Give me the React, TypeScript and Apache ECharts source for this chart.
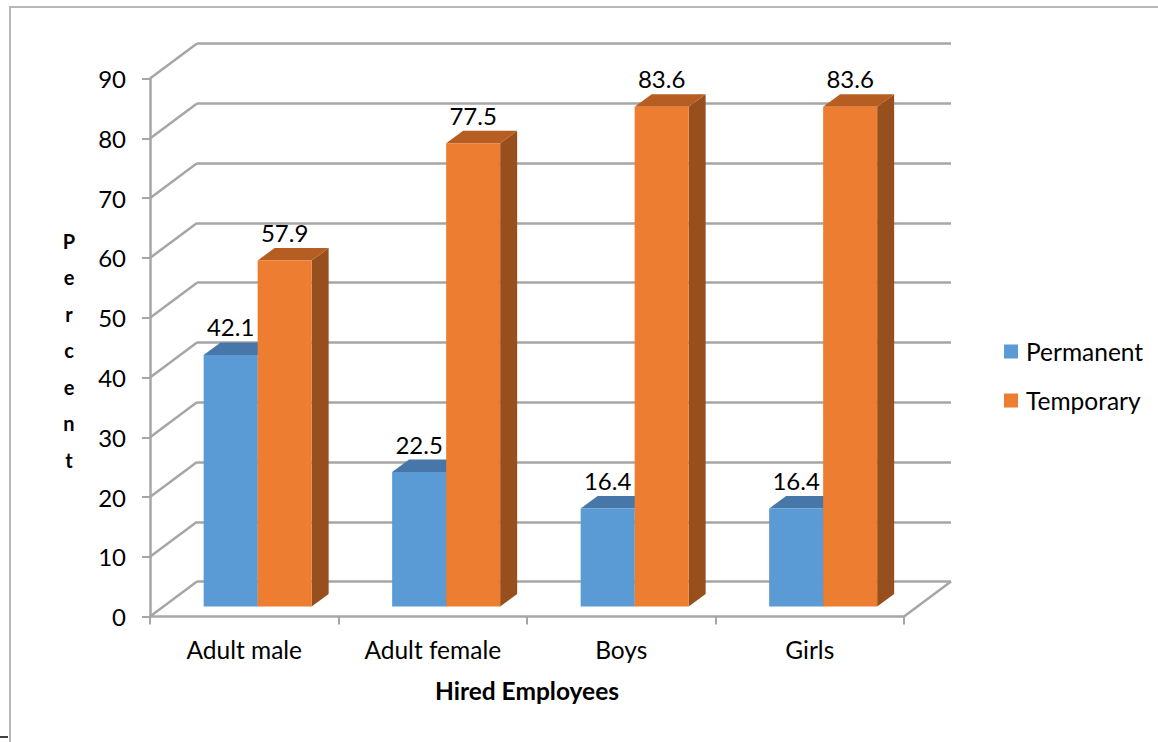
import React, { useEffect, useRef } from 'react';
import * as echarts from 'echarts';

const categories = ['Adult male', 'Adult female', 'Boys', 'Girls'];
const permanent = [42.1, 22.5, 16.4, 16.4];
const temporary = [57.9, 77.5, 83.6, 83.6];
const seriesNames = ['Permanent', 'Temporary'];
const yTicks = [0, 10, 20, 30, 40, 50, 60, 70, 80, 90];
const xTitle = 'Hired Employees';
const yTitle = 'Percent';

const FONT = 'Lato, "Noto Sans", sans-serif';
const GRID_COLOR = '#a6a6a6';
const DEPTH = { dx: 47, dy: -35 };
const FRONT = { dx: 13.4, dy: -10 };
const BAR_D = { dx: 17, dy: -12.5 };
const BAR_FRAC = 0.2865;

const COLORS = [
  { front: '#5b9bd5', top: '#4677a8', side: '#3c6a96' },
  { front: '#ed7d31', top: '#b65e22', side: '#984f1e' },
];

function barRenderer(side: number) {
  const c = COLORS[side];
  return (params: any, api: any) => {
    const cat = api.value(0);
    const val = api.value(1);
    const top = api.coord([cat, val]);
    const base = api.coord([cat, 0]);
    const band = api.size([1, 0])[0];
    const w = band * BAR_FRAC;
    const x0 = top[0] + (side === 0 ? -w : 0) + FRONT.dx;
    const x1 = x0 + w;
    const yt = top[1] + FRONT.dy;
    const yb = base[1] + FRONT.dy;
    return {
      type: 'group',
      children: [
        {
          type: 'polygon',
          shape: { points: [[x1, yt], [x1 + BAR_D.dx, yt + BAR_D.dy], [x1 + BAR_D.dx, yb + BAR_D.dy], [x1, yb]] },
          style: { fill: c.side },
        },
        {
          type: 'polygon',
          shape: { points: [[x0, yt], [x1, yt], [x1 + BAR_D.dx, yt + BAR_D.dy], [x0 + BAR_D.dx, yt + BAR_D.dy]] },
          style: { fill: c.top },
        },
        {
          type: 'rect',
          shape: { x: x0, y: yt, width: w, height: yb - yt },
          style: { fill: c.front },
        },
        {
          type: 'text',
          x: x0 + w / 2,
          y: yt + BAR_D.dy - 15.5,
          style: {
            text: Number(val).toFixed(1),
            fill: '#000',
            fontFamily: FONT,
            fontSize: 24,
            align: 'center',
            verticalAlign: 'middle',
          },
        },
      ],
    };
  };
}

function wallRenderer(params: any, api: any) {
  const v = api.value(1);
  const cs = params.coordSys;
  const y = api.coord([0, v])[1];
  const style = { stroke: GRID_COLOR, lineWidth: 2.5 };
  const children: any[] = [
    { type: 'line', shape: { x1: cs.x, y1: y, x2: cs.x + DEPTH.dx, y2: y + DEPTH.dy }, style },
  ];
  if (v === 0) {
    children.push({
      type: 'line',
      shape: { x1: cs.x + cs.width, y1: y, x2: cs.x + cs.width + DEPTH.dx, y2: y + DEPTH.dy },
      style,
    });
  }
  return { type: 'group', children };
}

export default function App() {
  const ref = useRef<HTMLDivElement>(null);
  useEffect(() => {
    if (!ref.current) return;
    const chart = echarts.init(ref.current, undefined, { renderer: 'svg' });
    const gridW = 754;
    const gridH = 538;
    chart.setOption({
      animation: false,
      backgroundColor: '#ffffff',
      grid: [
        { left: 150, top: 78.6, width: gridW, height: gridH },
        { left: 150 + DEPTH.dx, top: 78.6 + DEPTH.dy, width: gridW, height: gridH },
      ],
      legend: {
        data: seriesNames,
        orient: 'vertical',
        left: 1004,
        top: 339,
        padding: 0,
        icon: 'rect',
        itemWidth: 14,
        itemHeight: 14,
        itemGap: 24,
        selectedMode: false,
        textStyle: { fontFamily: FONT, fontSize: 24.5, color: '#000', lineHeight: 24, padding: [0, 0, 0, 3] },
      },
      xAxis: [
        {
          type: 'category',
          gridIndex: 0,
          data: categories,
          axisLine: { show: true, lineStyle: { color: GRID_COLOR, width: 2.5 } },
          axisTick: { show: true, length: 8, lineStyle: { color: GRID_COLOR, width: 2 } },
          axisLabel: { fontFamily: FONT, fontSize: 24.5, color: '#000', margin: 20 },
          name: xTitle,
          nameLocation: 'middle',
          nameGap: 61,
          nameTextStyle: { fontFamily: FONT, fontWeight: 'bold', fontSize: 24.5, color: '#000' },
        },
        { type: 'category', gridIndex: 1, data: categories, show: false },
      ],
      yAxis: [
        {
          type: 'value',
          gridIndex: 0,
          min: 0,
          max: 90,
          interval: 10,
          axisLine: { show: true, lineStyle: { color: GRID_COLOR, width: 2.5 } },
          axisTick: { show: true, length: 8, lineStyle: { color: GRID_COLOR, width: 2 } },
          splitLine: { show: false },
          axisLabel: { fontFamily: FONT, fontSize: 24, color: '#000', margin: 24 },
        },
        {
          type: 'value',
          gridIndex: 1,
          min: 0,
          max: 90,
          interval: 10,
          axisLine: { show: false },
          axisTick: { show: false },
          axisLabel: { show: false },
          splitLine: { show: true, lineStyle: { color: GRID_COLOR, width: 2.5 } },
        },
      ],
      graphic: [
        {
          type: 'rect',
          shape: { x: 10, y: 7, width: 1300, height: 900 },
          style: { fill: 'none', stroke: '#b8b8b8', lineWidth: 2 },
          silent: true,
        },
        {
          type: 'line',
          shape: { x1: 0, y1: 737, x2: 8, y2: 737 },
          style: { stroke: '#404040', lineWidth: 2 },
          silent: true,
        },
        {
          type: 'text',
          x: 69,
          y: 350,
          style: {
            text: yTitle.split('').join('\n'),
            fontFamily: FONT,
            fontWeight: 'bold',
            fontSize: 20,
            lineHeight: 36.5,
            fill: '#000',
            align: 'center',
            verticalAlign: 'middle',
          },
          silent: true,
        },
      ],
      series: [
        {
          type: 'custom',
          name: 'wall',
          xAxisIndex: 0,
          yAxisIndex: 0,
          silent: true,
          clip: false,
          z: 1,
          renderItem: wallRenderer,
          data: yTicks.map((v) => [0, v]),
        },
        {
          type: 'custom',
          name: seriesNames[0],
          xAxisIndex: 0,
          yAxisIndex: 0,
          clip: false,
          z: 3,
          itemStyle: { color: COLORS[0].front },
          renderItem: barRenderer(0),
          data: permanent.map((v, i) => [i, v]),
        },
        {
          type: 'custom',
          name: seriesNames[1],
          xAxisIndex: 0,
          yAxisIndex: 0,
          clip: false,
          z: 4,
          itemStyle: { color: COLORS[1].front },
          renderItem: barRenderer(1),
          data: temporary.map((v, i) => [i, v]),
        },
      ],
    });
    return () => chart.dispose();
  }, []);
  return (
    <div
      ref={ref}
      style={{ position: 'fixed', left: 0, top: 0, width: 1158, height: 742, background: '#fff' }}
    />
  );
}
